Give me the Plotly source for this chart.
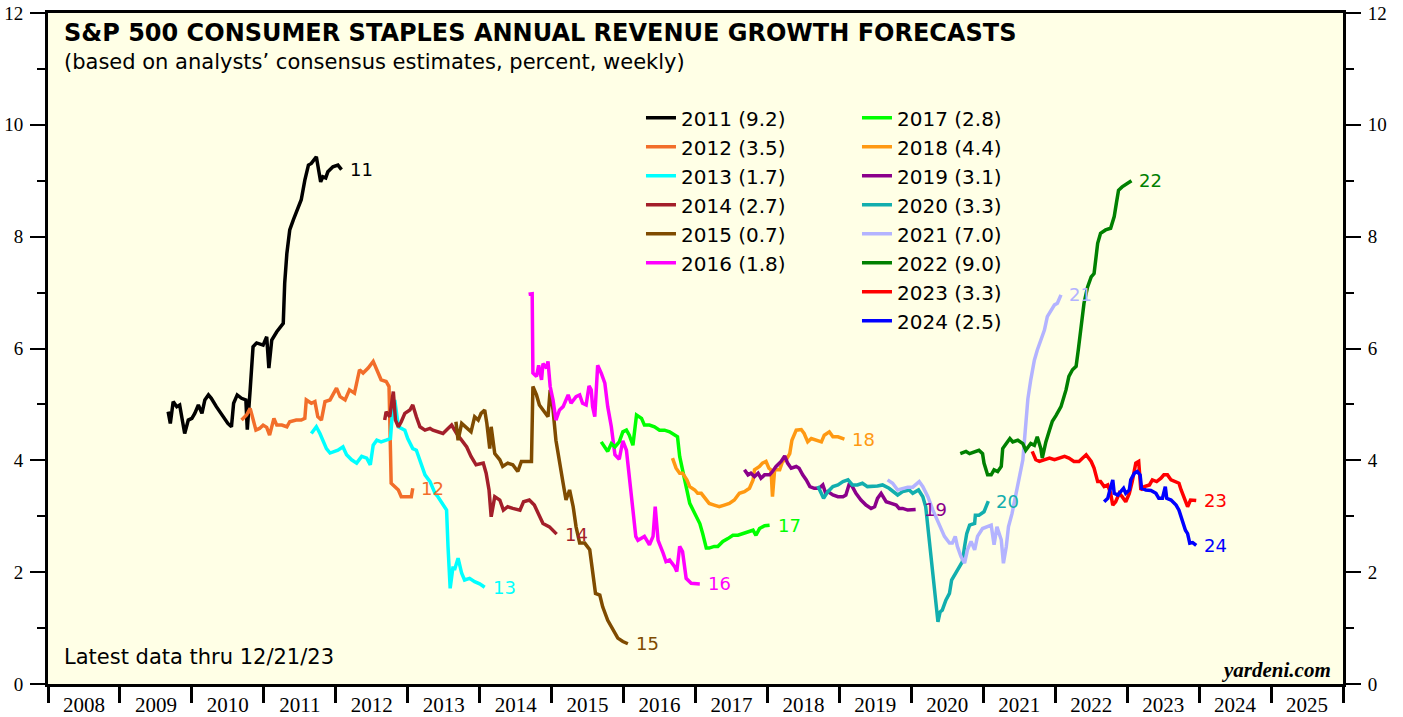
import plotly.graph_objects as go

# ---------------- data (decimal year, percent) ----------------
YEARS = [2011, 2012, 2013, 2014, 2015, 2016, 2017, 2018, 2019, 2020, 2021, 2022, 2023, 2024]
FINAL = ["9.2", "3.5", "1.7", "2.7", "0.7", "1.8", "2.8", "4.4", "3.1", "3.3", "7.0", "9.0", "3.3", "2.5"]
COLORS = ["#000000", "#F26E2A", "#00FFFF", "#A31F2A", "#7F4B00", "#FF00FF", "#00FF00",
          "#FF9912", "#8B008B", "#12AEAE", "#B3B3FF", "#008000", "#FF0000", "#0000FF"]

X_2011 = [2009.67, 2009.70, 2009.74, 2009.79, 2009.83, 2009.87, 2009.90, 2009.95, 2010.00, 2010.04,
          2010.09, 2010.14, 2010.18, 2010.23, 2010.27, 2010.34, 2010.44, 2010.50, 2010.55, 2010.58,
          2010.63, 2010.69, 2010.75, 2010.77, 2010.81, 2010.83, 2010.85, 2010.90, 2010.99, 2011.04,
          2011.07, 2011.11, 2011.18, 2011.27, 2011.29, 2011.32, 2011.36, 2011.41, 2011.48, 2011.52,
          2011.57, 2011.62, 2011.66, 2011.73, 2011.79, 2011.82, 2011.86, 2011.89, 2011.96, 2012.03, 2012.08]
Y_2011 = [4.87, 4.66, 5.05, 4.96, 4.99, 4.72, 4.48, 4.72, 4.75, 4.84,
          4.99, 4.84, 5.08, 5.17, 5.11, 4.96, 4.78, 4.66, 4.60, 5.02,
          5.17, 5.11, 5.08, 4.55, 5.26, 5.56, 6.03, 6.10, 6.06, 6.21,
          5.65, 6.15, 6.30, 6.45, 7.17, 7.70, 8.12, 8.30, 8.54, 8.66,
          9.01, 9.28, 9.31, 9.43, 8.98, 9.07, 9.05, 9.16, 9.25, 9.28, 9.20]

X_2012 = [2010.69, 2010.76, 2010.81, 2010.85, 2010.89, 2010.94, 2010.99, 2011.04, 2011.08, 2011.14,
          2011.18, 2011.25, 2011.32, 2011.36, 2011.45, 2011.52, 2011.57, 2011.59, 2011.66, 2011.71,
          2011.75, 2011.80, 2011.85, 2011.92, 2011.96, 2012.01, 2012.06, 2012.13, 2012.19, 2012.26,
          2012.33, 2012.38, 2012.45, 2012.52, 2012.57, 2012.63, 2012.70, 2012.74, 2012.76, 2012.77,
          2012.87, 2012.91, 2013.00, 2013.05, 2013.07]
Y_2012 = [4.72, 4.81, 4.93, 4.72, 4.54, 4.57, 4.63, 4.59, 4.45, 4.75,
          4.63, 4.63, 4.60, 4.69, 4.72, 4.72, 4.75, 5.08, 5.02, 5.05,
          4.78, 4.72, 5.05, 5.08, 5.17, 5.29, 5.14, 5.08, 5.26, 5.20,
          5.62, 5.56, 5.65, 5.77, 5.62, 5.44, 5.41, 5.32, 4.18, 3.59,
          3.47, 3.35, 3.35, 3.35, 3.50]

X_2013 = [2011.66, 2011.73, 2011.78, 2011.82, 2011.87, 2011.92, 2011.99, 2012.03, 2012.10, 2012.15,
          2012.22, 2012.29, 2012.36, 2012.43, 2012.48, 2012.52, 2012.57, 2012.63, 2012.70, 2012.76,
          2012.79, 2012.82, 2012.87, 2012.96, 2013.00, 2013.07, 2013.12, 2013.17, 2013.24, 2013.31,
          2013.38, 2013.42, 2013.47, 2013.54, 2013.56, 2013.59, 2013.63, 2013.65, 2013.70, 2013.75,
          2013.79, 2013.86, 2013.93, 2014.00, 2014.07]
Y_2013 = [4.48, 4.60, 4.48, 4.36, 4.21, 4.13, 4.16, 4.18, 4.24, 4.10,
          4.01, 3.95, 4.07, 4.04, 3.92, 4.27, 4.36, 4.33, 4.36, 4.39,
          4.90, 5.08, 4.60, 4.54, 4.39, 4.21, 4.18, 3.98, 3.74, 3.62,
          3.41, 3.35, 3.26, 3.11, 2.46, 1.71, 2.10, 2.04, 2.25, 1.98,
          1.86, 1.89, 1.83, 1.79, 1.73]

X_2014 = [2012.68, 2012.70, 2012.75, 2012.80, 2012.83, 2012.87, 2012.91, 2012.96, 2013.03, 2013.07,
          2013.12, 2013.17, 2013.24, 2013.31, 2013.35, 2013.42, 2013.49, 2013.56, 2013.61, 2013.68,
          2013.75, 2013.82, 2013.88, 2013.95, 2014.05, 2014.09, 2014.13, 2014.16, 2014.21, 2014.28,
          2014.33, 2014.39, 2014.46, 2014.56, 2014.61, 2014.69, 2014.76, 2014.81, 2014.88, 2014.97,
          2015.04, 2015.07]
Y_2014 = [4.72, 4.87, 4.78, 5.23, 4.72, 4.60, 4.69, 4.84, 4.90, 4.99,
          4.78, 4.60, 4.54, 4.57, 4.54, 4.51, 4.48, 4.57, 4.63, 4.48,
          4.36, 4.24, 4.07, 3.92, 3.95, 3.77, 3.47, 2.99, 3.35, 3.29,
          3.11, 3.17, 3.14, 3.11, 3.26, 3.29, 3.20, 3.05, 2.87, 2.81,
          2.72, 2.68]

X_2015 = [2013.67, 2013.70, 2013.75, 2013.82, 2013.88, 2013.93, 2013.98, 2014.02, 2014.07, 2014.10,
          2014.14, 2014.16, 2014.21, 2014.28, 2014.32, 2014.39, 2014.46, 2014.53, 2014.58, 2014.65,
          2014.72, 2014.74, 2014.79, 2014.83, 2014.90, 2014.95, 2014.98, 2015.02, 2015.06, 2015.11,
          2015.16, 2015.20, 2015.25, 2015.30, 2015.34, 2015.39, 2015.46, 2015.53, 2015.57, 2015.61,
          2015.67, 2015.71, 2015.78, 2015.85, 2015.92, 2015.99, 2016.06]
Y_2015 = [4.69, 4.36, 4.66, 4.57, 4.51, 4.78, 4.72, 4.84, 4.90, 4.66,
          4.21, 4.60, 4.12, 4.01, 3.89, 3.95, 3.92, 3.80, 3.98, 3.98,
          3.98, 5.32, 5.17, 4.99, 4.87, 4.78, 5.26, 4.90, 4.36, 4.01,
          3.59, 3.29, 3.47, 3.17, 2.81, 2.52, 2.52, 2.40, 1.98, 1.62,
          1.59, 1.38, 1.14, 0.97, 0.82, 0.76, 0.72]

X_2016 = [2014.68, 2014.73, 2014.74, 2014.79, 2014.82, 2014.86, 2014.88, 2014.93, 2014.95, 2014.98,
          2015.02, 2015.06, 2015.11, 2015.16, 2015.23, 2015.27, 2015.34, 2015.39, 2015.43, 2015.48,
          2015.52, 2015.55, 2015.57, 2015.60, 2015.64, 2015.69, 2015.74, 2015.78, 2015.83, 2015.88,
          2015.94, 2015.99, 2016.04, 2016.10, 2016.13, 2016.17, 2016.20, 2016.29, 2016.36, 2016.41,
          2016.44, 2016.48, 2016.55, 2016.59, 2016.64, 2016.71, 2016.74, 2016.78, 2016.82, 2016.87,
          2016.94, 2017.06]
Y_2016 = [6.97, 6.98, 5.56, 5.50, 5.70, 5.44, 5.73, 5.65, 5.77, 5.32,
          5.08, 4.72, 4.90, 4.96, 5.17, 5.02, 5.14, 5.17, 5.02, 4.99,
          5.33, 5.26, 4.96, 4.78, 5.70, 5.56, 5.38, 4.96, 4.60, 4.10,
          4.02, 4.35, 4.18, 3.50, 3.10, 2.64, 2.57, 2.64, 2.49, 2.64,
          3.17, 2.57, 2.34, 2.19, 2.22, 2.10, 2.01, 2.46, 2.37, 1.89,
          1.80, 1.79]

X_2017 = [2015.69, 2015.74, 2015.78, 2015.83, 2015.88, 2015.94, 2015.99, 2016.04, 2016.08, 2016.13,
          2016.18, 2016.25, 2016.29, 2016.36, 2016.43, 2016.50, 2016.57, 2016.64, 2016.71, 2016.75,
          2016.78, 2016.82, 2016.87, 2016.92, 2016.99, 2017.06, 2017.10, 2017.15, 2017.19, 2017.26,
          2017.31, 2017.38, 2017.45, 2017.52, 2017.59, 2017.66, 2017.73, 2017.80, 2017.84, 2017.89,
          2017.96, 2018.03]
Y_2017 = [4.33, 4.24, 4.16, 4.30, 4.24, 4.33, 4.51, 4.54, 4.45, 4.27,
          4.81, 4.75, 4.63, 4.63, 4.60, 4.54, 4.54, 4.51, 4.45, 4.42,
          4.07, 3.83, 3.47, 3.23, 3.05, 2.87, 2.69, 2.43, 2.43, 2.46,
          2.46, 2.55, 2.60, 2.66, 2.66, 2.69, 2.72, 2.75, 2.66, 2.78,
          2.83, 2.84]

X_2018 = [2016.68, 2016.73, 2016.78, 2016.82, 2016.88, 2016.92, 2016.99, 2017.03, 2017.08, 2017.13,
          2017.19, 2017.26, 2017.33, 2017.40, 2017.47, 2017.54, 2017.61, 2017.68, 2017.75, 2017.80,
          2017.82, 2017.89, 2017.93, 2017.98, 2018.02, 2018.05, 2018.07, 2018.10, 2018.17, 2018.21,
          2018.26, 2018.31, 2018.34, 2018.40, 2018.47, 2018.51, 2018.56, 2018.61, 2018.68, 2018.75,
          2018.79, 2018.86, 2018.91, 2018.98, 2019.07]
Y_2018 = [4.04, 3.86, 3.77, 3.77, 3.65, 3.53, 3.47, 3.41, 3.41, 3.32,
          3.23, 3.20, 3.17, 3.20, 3.23, 3.29, 3.41, 3.44, 3.50, 3.65,
          3.83, 3.89, 3.95, 3.98, 3.86, 3.83, 3.35, 3.83, 3.83, 3.98,
          4.01, 4.12, 4.36, 4.54, 4.55, 4.48, 4.33, 4.39, 4.36, 4.33,
          4.45, 4.51, 4.42, 4.42, 4.38]

X_2019 = [2017.68, 2017.73, 2017.77, 2017.82, 2017.87, 2017.91, 2017.96, 2018.03, 2018.07, 2018.12,
          2018.19, 2018.24, 2018.28, 2018.33, 2018.40, 2018.44, 2018.49, 2018.54, 2018.59, 2018.65,
          2018.72, 2018.77, 2018.81, 2018.84, 2018.91, 2018.98, 2019.05, 2019.09, 2019.14, 2019.18,
          2019.23, 2019.30, 2019.37, 2019.44, 2019.49, 2019.53, 2019.58, 2019.65, 2019.72, 2019.79,
          2019.83, 2019.88, 2019.95, 2020.02, 2020.06]
Y_2019 = [3.83, 3.74, 3.77, 3.71, 3.77, 3.68, 3.74, 3.74, 3.80, 3.89,
          3.98, 4.08, 3.95, 3.86, 3.89, 3.86, 3.74, 3.65, 3.53, 3.50,
          3.50, 3.56, 3.41, 3.44, 3.38, 3.35, 3.35, 3.38, 3.59, 3.53,
          3.41, 3.29, 3.20, 3.14, 3.17, 3.32, 3.41, 3.26, 3.23, 3.20,
          3.14, 3.14, 3.11, 3.11, 3.12]

X_2020 = [2018.70, 2018.75, 2018.78, 2018.84, 2018.91, 2018.98, 2019.05, 2019.12, 2019.18, 2019.25,
          2019.32, 2019.39, 2019.46, 2019.53, 2019.60, 2019.69, 2019.81, 2019.88, 2019.97, 2020.02,
          2020.10, 2020.16, 2020.20, 2020.24, 2020.27, 2020.31, 2020.33, 2020.37, 2020.40, 2020.43,
          2020.48, 2020.53, 2020.56, 2020.61, 2020.67, 2020.71, 2020.74, 2020.77, 2020.81, 2020.88,
          2020.89, 2020.94, 2021.01, 2021.07]
Y_2020 = [3.54, 3.41, 3.32, 3.44, 3.53, 3.56, 3.62, 3.65, 3.56, 3.56,
          3.59, 3.53, 3.53, 3.54, 3.56, 3.50, 3.38, 3.44, 3.47, 3.41,
          3.47, 3.35, 3.17, 2.69, 2.28, 1.86, 1.50, 1.11, 1.29, 1.32,
          1.50, 1.62, 1.86, 1.98, 2.10, 2.19, 2.46, 2.69, 2.84, 2.87,
          3.02, 3.02, 3.08, 3.27]

X_2021 = [2019.67, 2019.74, 2019.81, 2019.88, 2019.95, 2020.02, 2020.11, 2020.16, 2020.23, 2020.30,
          2020.34, 2020.39, 2020.46, 2020.53, 2020.57, 2020.61, 2020.64, 2020.69, 2020.74, 2020.78,
          2020.83, 2020.88, 2020.92, 2020.99, 2021.06, 2021.11, 2021.15, 2021.19, 2021.25, 2021.28,
          2021.32, 2021.35, 2021.40, 2021.45, 2021.50, 2021.55, 2021.58, 2021.62, 2021.66, 2021.71,
          2021.75, 2021.80, 2021.85, 2021.89, 2021.94, 2021.99, 2022.03, 2022.08]
Y_2021 = [3.65, 3.59, 3.47, 3.50, 3.52, 3.52, 3.62, 3.53, 3.35, 3.11,
          2.99, 2.84, 2.64, 2.52, 2.52, 2.64, 2.46, 2.28, 2.16, 2.40,
          2.55, 2.40, 2.64, 2.78, 2.81, 2.84, 2.49, 2.81, 2.58, 2.16,
          2.46, 2.81, 3.05, 3.35, 3.71, 4.01, 4.48, 5.10, 5.44, 5.79,
          5.97, 6.15, 6.33, 6.57, 6.69, 6.78, 6.81, 6.96]

X_2022 = [2020.68, 2020.76, 2020.81, 2020.88, 2020.94, 2020.99, 2021.01, 2021.06, 2021.11, 2021.15,
          2021.20, 2021.25, 2021.27, 2021.32, 2021.37, 2021.41, 2021.48, 2021.55, 2021.59, 2021.66,
          2021.71, 2021.75, 2021.80, 2021.82, 2021.87, 2021.92, 2021.96, 2022.01, 2022.08, 2022.15,
          2022.19, 2022.24, 2022.29, 2022.32, 2022.36, 2022.40, 2022.45, 2022.50, 2022.54, 2022.59,
          2022.63, 2022.70, 2022.77, 2022.82, 2022.85, 2022.88, 2022.93, 2023.00, 2023.06]
Y_2022 = [4.12, 4.16, 4.12, 4.16, 4.18, 4.12, 3.95, 3.74, 3.74, 3.83,
          3.80, 3.89, 4.21, 4.30, 4.39, 4.33, 4.36, 4.30, 4.18, 4.30,
          4.27, 4.42, 4.21, 4.04, 4.33, 4.54, 4.70, 4.80, 4.96, 5.26,
          5.50, 5.62, 5.68, 5.97, 6.45, 6.81, 7.10, 7.28, 7.34, 7.88,
          8.06, 8.12, 8.15, 8.36, 8.60, 8.83, 8.89, 8.95, 9.00]

X_2023 = [2021.68, 2021.73, 2021.78, 2021.85, 2021.92, 2021.99, 2022.06, 2022.13, 2022.19, 2022.26,
          2022.33, 2022.43, 2022.50, 2022.54, 2022.59, 2022.63, 2022.68, 2022.73, 2022.77, 2022.80,
          2022.84, 2022.89, 2022.93, 2022.98, 2023.03, 2023.07, 2023.12, 2023.16, 2023.19, 2023.24,
          2023.31, 2023.35, 2023.41, 2023.47, 2023.51, 2023.56, 2023.61, 2023.68, 2023.72, 2023.75,
          2023.79, 2023.84, 2023.88, 2023.93, 2023.96]
Y_2023 = [4.16, 4.01, 3.98, 4.01, 4.04, 4.01, 4.04, 4.07, 4.04, 3.98,
          3.98, 4.10, 3.98, 3.86, 3.62, 3.62, 3.53, 3.56, 3.41, 3.20,
          3.26, 3.41, 3.35, 3.26, 3.41, 3.62, 3.95, 3.98, 3.47, 3.53,
          3.56, 3.65, 3.62, 3.68, 3.74, 3.74, 3.65, 3.62, 3.59, 3.47,
          3.35, 3.17, 3.29, 3.29, 3.28]

X_2024 = [2022.68, 2022.73, 2022.76, 2022.80, 2022.82, 2022.87, 2022.91, 2022.95, 2022.98, 2023.03,
          2023.05, 2023.10, 2023.14, 2023.18, 2023.20, 2023.26, 2023.33, 2023.40, 2023.44, 2023.49,
          2023.53, 2023.55, 2023.61, 2023.68, 2023.72, 2023.77, 2023.81, 2023.84, 2023.87, 2023.91,
          2023.96]
Y_2024 = [3.26, 3.32, 3.47, 3.65, 3.41, 3.38, 3.44, 3.50, 3.41, 3.47,
          3.65, 3.77, 3.80, 3.74, 3.50, 3.47, 3.46, 3.41, 3.32, 3.32,
          3.53, 3.32, 3.29, 3.20, 3.11, 2.93, 2.75, 2.69, 2.52, 2.53,
          2.48]

AXIS_YEARS = list(range(2008, 2026))
Y_TICKS = [0, 2, 4, 6, 8, 10, 12]

XS = [X_2011, X_2012, X_2013, X_2014, X_2015, X_2016, X_2017,
      X_2018, X_2019, X_2020, X_2021, X_2022, X_2023, X_2024]
YS = [Y_2011, Y_2012, Y_2013, Y_2014, Y_2015, Y_2016, Y_2017,
      Y_2018, Y_2019, Y_2020, Y_2021, Y_2022, Y_2023, Y_2024]

SANS = "DejaVu Sans"
SERIF = "Liberation Serif"

fig = go.Figure()
for yr, fin, col, xs, ys in zip(YEARS, FINAL, COLORS, XS, YS):
    assert len(xs) == len(ys), (yr, len(xs), len(ys))
    fig.add_trace(go.Scatter(
        x=xs, y=ys, mode="lines", name=f"{yr} ({fin})",
        line=dict(color=col, width=3.5),
        legend="legend" if yr <= 2016 else "legend2",
    ))
    fig.add_annotation(
        x=xs[-1], y=ys[-1], xref="x", yref="y", text=str(yr)[2:],
        xanchor="left", yanchor="middle", xshift=6, showarrow=False,
        font=dict(family=SANS, size=18, color=col),
    )

# helper trace so the secondary (label / right) axes are drawn
fig.add_trace(go.Scatter(x=[None], y=[None], xaxis="x2", yaxis="y2",
                         showlegend=False, hoverinfo="skip"))

ytick_common = dict(
    range=[0, 12], tickmode="array", tickvals=Y_TICKS, ticktext=[str(v) for v in Y_TICKS],
    ticks="outside", ticklen=15, tickwidth=1.5, tickcolor="black",
    minor=dict(tickmode="linear", tick0=0, dtick=1, ticks="outside", ticklen=8,
               tickwidth=1.5, tickcolor="black"),
    showgrid=False, zeroline=False, automargin=False,
    tickfont=dict(family=SERIF, size=19, color="black"),
    ticklabelstandoff=3,
)

fig.update_layout(
    width=1403, height=717,
    margin=dict(l=48, r=60, t=13, b=33, pad=0, autoexpand=False),
    paper_bgcolor="white", plot_bgcolor="#FFFFE6",
    xaxis=dict(range=[2008, 2026], tickmode="linear", tick0=2008, dtick=1,
               ticks="outside", ticklen=16, tickwidth=3, tickcolor="black",
               showticklabels=False, showline=True, linewidth=3, linecolor="black",
               mirror=True, showgrid=False, zeroline=False, automargin=False),
    xaxis2=dict(overlaying="x", side="bottom", anchor="y2", range=[2008, 2026],
                tickmode="array", tickvals=[y + 0.5 for y in AXIS_YEARS],
                ticktext=[str(y) for y in AXIS_YEARS], ticks="",
                showline=False, showgrid=False, zeroline=False, automargin=False,
                tickfont=dict(family=SERIF, size=21, color="black"),
                ticklabelstandoff=6),
    yaxis=dict(side="left", showline=True, linewidth=3, linecolor="black", mirror=True,
               **ytick_common),
    yaxis2=dict(side="right", overlaying="y", anchor="x", showline=True, linewidth=3,
                linecolor="black", **ytick_common),
    legend=dict(x=0.4579, y=0.873, xanchor="left", yanchor="top",
                bgcolor="rgba(0,0,0,0)", tracegroupgap=0,
                font=dict(family=SANS, size=20, color="black")),
    legend2=dict(x=0.6247, y=0.873, xanchor="left", yanchor="top",
                 bgcolor="rgba(0,0,0,0)", tracegroupgap=0,
                 font=dict(family=SANS, size=20, color="black")),
    showlegend=True,
)

fig.add_annotation(xref="paper", yref="paper", x=0.0108, y=0.9702, xanchor="left", yanchor="middle",
                   text="<b>S&P 500 CONSUMER STAPLES ANNUAL REVENUE GROWTH FORECASTS</b>",
                   showarrow=False, font=dict(family=SANS, size=24, color="black"))
fig.add_annotation(xref="paper", yref="paper", x=0.0108, y=0.927, xanchor="left", yanchor="middle",
                   text="(based on analysts\u2019 consensus estimates, percent, weekly)",
                   showarrow=False, font=dict(family=SANS, size=21, color="black"))
fig.add_annotation(xref="paper", yref="paper", x=0.0108, y=0.040, xanchor="left", yanchor="middle",
                   text="Latest data thru 12/21/23",
                   showarrow=False, font=dict(family=SANS, size=21, color="black"))
fig.add_annotation(xref="paper", yref="paper", x=0.9923, y=0.021, xanchor="right", yanchor="middle",
                   text="<b><i>yardeni.com</i></b>",
                   showarrow=False, font=dict(family=SERIF, size=21, color="black"))

fig.write_html("out.html",
               config={"displayModeBar": False},
               post_script="document.body.style.margin='0';document.body.style.overflow='hidden';")
